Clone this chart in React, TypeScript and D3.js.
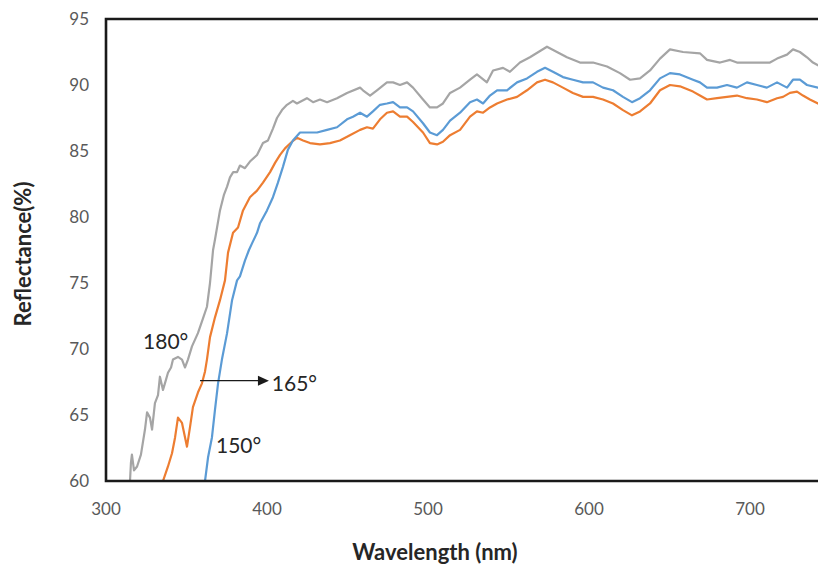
import React, { useEffect, useRef } from 'react';
import * as d3 from 'd3';

// [wavelength nm, reflectance %]
const series180: [number, number][] = [
  [314.9, 60.0], [315.5, 61.4], [316.1, 62.0], [317.4, 60.8], [319.3, 61.1], [321.7, 62.0],
  [324.2, 63.9], [325.5, 65.2], [327.3, 64.8], [328.6, 63.9], [330.4, 65.9], [332.3, 66.5],
  [333.5, 67.9], [335.4, 66.9], [336.6, 67.4], [338.5, 68.2], [340.4, 68.6], [341.6, 69.2],
  [344.7, 69.4], [347.2, 69.2], [349.1, 68.6], [350.9, 69.2], [353.4, 70.2], [357.1, 71.2],
  [360.2, 72.3], [362.7, 73.2], [364.6, 75.0], [366.5, 77.5], [367.7, 78.3], [370.8, 80.5],
  [373.3, 81.7], [375.2, 82.3], [377.0, 83.0], [379.0, 83.4], [381.4, 83.4], [383.2, 83.9],
  [386.3, 83.7], [389.4, 84.2], [393.8, 84.7], [397.5, 85.6], [400.6, 85.8], [403.7, 86.7],
  [406.2, 87.5], [409.3, 88.1], [412.4, 88.5], [416.1, 88.8], [418.6, 88.6], [424.8, 89.0],
  [428.6, 88.7], [432.9, 88.9], [437.3, 88.7], [443.5, 89.0], [449.7, 89.4], [457.8, 89.8],
  [459.6, 89.6], [464.0, 89.2], [468.3, 89.6], [474.5, 90.2], [478.3, 90.2], [482.6, 90.0],
  [487.0, 90.2], [490.7, 89.8], [496.9, 88.9], [501.2, 88.3], [505.6, 88.3], [509.3, 88.6],
  [513.7, 89.4], [519.9, 89.8], [526.1, 90.4], [530.4, 90.8], [536.6, 90.2], [540.4, 91.1],
  [546.6, 91.3], [550.9, 91.0], [557.1, 91.7], [563.3, 92.1], [573.9, 92.9], [580.1, 92.5],
  [586.3, 92.1], [594.4, 91.7], [602.5, 91.7], [611.2, 91.4], [619.2, 90.9], [625.5, 90.4],
  [631.7, 90.5], [637.9, 91.1], [644.1, 92.0], [650.3, 92.7], [658.4, 92.5], [668.9, 92.4],
  [673.3, 91.9], [681.4, 91.7], [687.6, 91.9], [691.9, 91.7], [700.0, 91.7], [708.1, 91.7],
  [712.4, 91.7], [716.8, 92.0], [723.0, 92.3], [726.7, 92.7], [731.0, 92.5], [735.4, 92.1],
  [739.1, 91.7], [742.2, 91.5], [749.7, 91.1],
];

const series165: [number, number][] = [
  [335.4, 60.0], [338.5, 61.1], [341.0, 62.1], [342.9, 63.3], [344.7, 64.8], [347.2, 64.4],
  [349.1, 63.3], [350.3, 62.6], [352.2, 64.1], [354.0, 65.6], [357.1, 66.7], [359.6, 67.4],
  [361.5, 68.3], [362.7, 69.2], [364.6, 70.9], [367.7, 72.4], [370.8, 73.7], [373.9, 75.2],
  [375.8, 77.3], [378.9, 78.8], [382.0, 79.2], [385.1, 80.5], [389.4, 81.5], [393.8, 82.0],
  [397.5, 82.6], [401.9, 83.4], [405.0, 84.1], [408.1, 84.7], [411.2, 85.2], [415.5, 85.7],
  [418.6, 86.0], [422.4, 85.8], [426.7, 85.6], [432.9, 85.5], [439.1, 85.6], [445.3, 85.8],
  [451.5, 86.2], [457.8, 86.6], [462.1, 86.8], [465.8, 86.7], [470.2, 87.4], [474.5, 87.9],
  [478.3, 88.0], [482.6, 87.6], [487.0, 87.6], [490.7, 87.2], [496.9, 86.4], [501.2, 85.6],
  [505.6, 85.5], [509.3, 85.7], [513.7, 86.2], [519.9, 86.6], [526.1, 87.6], [530.4, 88.0],
  [534.2, 87.9], [538.5, 88.3], [542.9, 88.6], [549.1, 88.9], [555.3, 89.1], [561.5, 89.6],
  [567.7, 90.2], [572.7, 90.4], [577.6, 90.2], [583.8, 89.8], [590.0, 89.4], [596.3, 89.1],
  [602.5, 89.1], [608.7, 88.9], [614.9, 88.6], [621.1, 88.1], [626.7, 87.7], [631.7, 88.0],
  [637.9, 88.6], [644.1, 89.6], [650.3, 90.0], [656.5, 89.9], [664.6, 89.5], [668.9, 89.2],
  [673.3, 88.9], [679.5, 89.0], [685.7, 89.1], [691.9, 89.2], [698.1, 89.0], [704.3, 88.9],
  [710.5, 88.7], [716.8, 89.0], [720.5, 89.1], [724.8, 89.4], [729.2, 89.5], [732.9, 89.2],
  [737.2, 88.9], [742.2, 88.6], [749.7, 88.3],
];

const series150: [number, number][] = [
  [361.5, 60.0], [363.4, 61.8], [365.8, 63.3], [367.7, 65.4], [369.6, 67.4], [372.0, 69.2],
  [375.2, 71.2], [378.3, 73.7], [381.4, 75.2], [383.2, 75.5], [386.3, 76.7], [388.8, 77.5],
  [390.7, 78.0], [393.8, 78.8], [395.6, 79.5], [400.0, 80.5], [403.7, 81.5], [406.8, 82.6],
  [409.9, 83.8], [413.0, 85.1], [416.1, 85.8], [420.5, 86.4], [424.8, 86.4], [431.1, 86.4],
  [437.3, 86.6], [443.5, 86.8], [449.7, 87.4], [453.4, 87.6], [457.8, 87.9], [462.1, 87.6],
  [465.8, 88.0], [470.2, 88.5], [474.5, 88.6], [478.3, 88.7], [482.6, 88.3], [487.0, 88.3],
  [490.7, 88.0], [496.9, 87.1], [501.2, 86.4], [505.6, 86.2], [509.3, 86.6], [513.7, 87.3],
  [519.9, 87.9], [526.1, 88.7], [530.4, 88.9], [534.2, 88.6], [538.5, 89.2], [542.9, 89.6],
  [549.1, 89.6], [555.3, 90.2], [561.5, 90.5], [567.7, 91.0], [572.7, 91.3], [577.6, 91.0],
  [583.8, 90.6], [590.0, 90.4], [596.3, 90.2], [602.5, 90.2], [608.7, 89.8], [614.9, 89.6],
  [621.1, 89.1], [626.7, 88.7], [631.7, 89.0], [637.9, 89.6], [644.1, 90.5], [650.3, 90.9],
  [656.5, 90.8], [664.6, 90.4], [668.9, 90.2], [673.3, 89.8], [679.5, 89.8], [685.7, 90.0],
  [691.9, 89.8], [698.1, 90.2], [704.3, 90.0], [710.5, 89.8], [716.8, 90.2], [723.0, 89.8],
  [726.7, 90.4], [731.0, 90.4], [735.4, 90.0], [742.2, 89.8], [749.7, 89.6],
];

const xTicks = [300, 400, 500, 600, 700];
const yTicks = [60, 65, 70, 75, 80, 85, 90, 95];

const seriesList = [
  { name: '180', data: series180, color: '#A5A5A5' },
  { name: '165', data: series165, color: '#ED7D31' },
  { name: '150', data: series150, color: '#5B9BD5' },
];

const W = 818;
const H = 568;
const font = 'Lato, "Open Sans", sans-serif';

const App = () => {
  const svgRef = useRef<SVGSVGElement>(null);

  useEffect(() => {
    const svg = d3.select(svgRef.current);
    svg.selectAll('*').remove();

    const left = 106;
    const top = 19;
    const bottom = 481;

    // plot runs past the right edge of the picture
    const x = d3.scaleLinear().domain([300, 800]).range([left, left + 805]);
    const y = d3.scaleLinear().domain([60, 95]).range([bottom, top]);

    svg.append('defs').append('clipPath').attr('id', 'plot-clip')
      .append('rect')
      .attr('x', left).attr('y', top)
      .attr('width', W - left).attr('height', bottom - top);

    const line = d3.line<[number, number]>()
      .x(d => x(d[0]))
      .y(d => y(d[1]));

    const lines = svg.append('g').attr('clip-path', 'url(#plot-clip)');
    seriesList.forEach(s => {
      lines.append('path')
        .datum(s.data)
        .attr('fill', 'none')
        .attr('stroke', s.color)
        .attr('stroke-width', 2.2)
        .attr('stroke-linejoin', 'round')
        .attr('d', line);
    });

    // frame
    svg.append('path')
      .attr('d', `M${W + 5},${top} H${left} V${bottom} H${W + 5}`)
      .attr('fill', 'none')
      .attr('stroke', '#1a1a1a')
      .attr('stroke-width', 2.6);

    // y tick labels
    svg.append('g').selectAll('text')
      .data(yTicks)
      .enter()
      .append('text')
      .attr('x', 89)
      .attr('y', d => y(d))
      .attr('dy', '0.35em')
      .attr('text-anchor', 'end')
      .style('font-family', font)
      .style('font-size', '17px')
      .style('fill', '#595959')
      .text(d => d);

    // x tick labels
    svg.append('g').selectAll('text')
      .data(xTicks)
      .enter()
      .append('text')
      .attr('x', d => x(d))
      .attr('y', 509)
      .attr('dy', '0.35em')
      .attr('text-anchor', 'middle')
      .style('font-family', font)
      .style('font-size', '17px')
      .style('fill', '#595959')
      .text(d => d);

    // axis titles
    svg.append('text')
      .attr('x', 435)
      .attr('y', 560)
      .attr('text-anchor', 'middle')
      .style('font-family', font)
      .style('font-size', '22px')
      .style('font-weight', 'bold')
      .style('fill', '#262626')
      .text('Wavelength (nm)');

    svg.append('text')
      .attr('transform', `translate(31, 254) rotate(-90)`)
      .attr('text-anchor', 'middle')
      .style('font-family', font)
      .style('font-size', '22px')
      .style('font-weight', 'bold')
      .style('fill', '#262626')
      .text('Reflectance(%)');

    // annotations
    const note = (nm: number, val: number, label: string) =>
      svg.append('text')
        .attr('x', x(nm))
        .attr('y', y(val))
        .style('font-family', font)
        .style('font-size', '21px')
        .style('fill', '#262626')
        .text(label);

    note(323, 70.0, '180°');
    note(403, 66.8, '165°');
    note(368.3, 62.1, '150°');

    const arrowY = y(67.6);
    svg.append('line')
      .attr('x1', x(358.4)).attr('x2', x(395))
      .attr('y1', arrowY).attr('y2', arrowY)
      .attr('stroke', '#1a1a1a')
      .attr('stroke-width', 1.3);
    const tip = x(401.2);
    svg.append('path')
      .attr('d', `M${tip},${arrowY} L${tip - 11},${arrowY - 5} L${tip - 11},${arrowY + 5} Z`)
      .attr('fill', '#1a1a1a');
  }, []);

  return (
    <svg
      ref={svgRef}
      width={W}
      height={H}
      style={{ position: 'absolute', left: 0, top: 0, background: '#fff' }}
    />
  );
};

export default App;
